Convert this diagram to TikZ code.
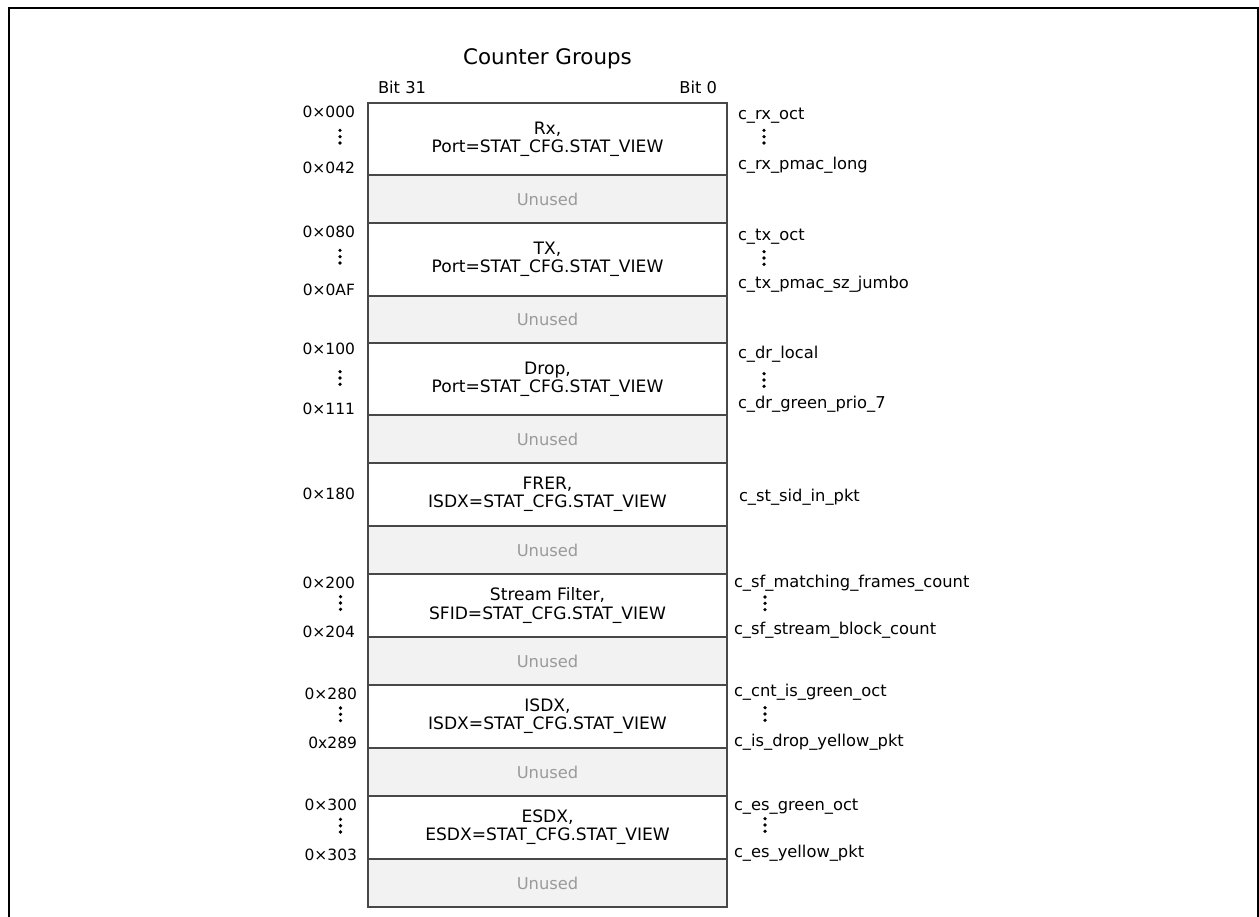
\documentclass[tikz,border=0pt]{standalone}
\usepackage{fontspec}
\setmainfont{DejaVu Sans}
\definecolor{boxline}{HTML}{484848}
\definecolor{unusedfill}{HTML}{F2F2F2}
\definecolor{unusedtext}{HTML}{9A9A9A}
\tikzset{
  body/.style={font=\fontsize{16.3}{18.5}\selectfont, inner sep=0pt, outer sep=0pt},
  grp/.style={body, font=\fontsize{17.1}{18.3}\selectfont, anchor=north west, minimum width=359pt, draw=boxline, line width=1.2pt, align=center, fill=white},
  unusedbox/.style={grp, font=\fontsize{16.3}{18.5}\selectfont, fill=unusedfill, text=unusedtext, minimum height=48pt},
  leftlbl/.style={body, font=\fontsize{15.5}{18}\selectfont, anchor=base east},
  rightlbl/.style={body, anchor=base west},
  vdotmark/.pic={\foreach \dy in {-6.3,0,6.3} \fill (0,\dy) circle (1.8pt);}
}
\begin{document}
\begin{tikzpicture}[x=1pt,y=-1pt]
\useasboundingbox (0,0) rectangle (1259,917);
\draw[line width=2pt] (8.5,918) -- (8.5,8.5) -- (1257.8,8.5) -- (1257.8,918);

\node[body, font=\fontsize{21.4}{24}\selectfont, anchor=base] (title) at (547.5,65) {Counter Groups};
\node[body, anchor=base west] (bit31) at (378,93.3) {Bit 31};
\node[body, anchor=base east] (bit0) at (717,93.3) {Bit 0};

% rows
\node[grp, minimum height=72pt] (rx) at (368,103) {Rx,\\Port=STAT\_CFG.STAT\_VIEW};
\node[unusedbox] (u1) at (368,175) {Unused};
\node[grp, minimum height=73pt] (tx) at (368,223) {TX,\\Port=STAT\_CFG.STAT\_VIEW};
\node[unusedbox, minimum height=47pt] (u2) at (368,296) {Unused};
\node[grp, minimum height=72pt] (drop) at (368,343) {Drop,\\Port=STAT\_CFG.STAT\_VIEW};
\node[unusedbox] (u3) at (368,415) {Unused};
\node[grp, minimum height=63pt] (frer) at (368,463) {FRER,\\ISDX=STAT\_CFG.STAT\_VIEW};
\node[unusedbox] (u4) at (368,526) {Unused};
\node[grp, minimum height=63pt] (sf) at (368,574) {Stream Filter,\\SFID=STAT\_CFG.STAT\_VIEW};
\node[unusedbox] (u5) at (368,637) {Unused};
\node[grp, minimum height=63pt] (isdx) at (368,685) {ISDX,\\ISDX=STAT\_CFG.STAT\_VIEW};
\node[unusedbox] (u6) at (368,748) {Unused};
\node[grp, minimum height=63pt] (esdx) at (368,796) {ESDX,\\ESDX=STAT\_CFG.STAT\_VIEW};
\node[unusedbox] (u7) at (368,859) {Unused};

% left addresses
\node[leftlbl] (a000) at (355,117.5) {0×000};
\pic at (340,136.7) {vdotmark};
\node[leftlbl] (a042) at (355,174) {0×042};
\node[leftlbl] (a080) at (355,237.7) {0×080};
\pic at (340,256.7) {vdotmark};
\node[leftlbl] (a0af) at (355,295.3) {0×0AF};
\node[leftlbl] (a100) at (355,355) {0×100};
\pic at (340,378) {vdotmark};
\node[leftlbl] (a111) at (355,414.3) {0×111};
\node[leftlbl] (a180) at (355,499.3) {0×180};
\node[leftlbl] (a200) at (355,588.7) {0×200};
\pic at (340.5,603) {vdotmark};
\node[leftlbl] (a204) at (355,637.7) {0×204};
\node[leftlbl] (a280) at (357,699.3) {0×280};
\pic at (340.5,714.3) {vdotmark};
\node[leftlbl] (a289) at (357,748.7) {0x289};
\node[leftlbl] (a300) at (357,810.3) {0×300};
\pic at (340.5,825.7) {vdotmark};
\node[leftlbl] (a303) at (357,860) {0×303};

% right counter names
\node[rightlbl] (rxoct) at (738,119.3) {c\_rx\_oct};
\pic at (764,136.7) {vdotmark};
\node[rightlbl] (rxlong) at (738,169.3) {c\_rx\_pmac\_long};
\node[rightlbl] (txoct) at (738,240.5) {c\_tx\_oct};
\pic at (764,258) {vdotmark};
\node[rightlbl] (txjumbo) at (738,289) {c\_tx\_pmac\_sz\_jumbo};
\node[rightlbl] (drlocal) at (738,358.8) {c\_dr\_local};
\pic at (764,380) {vdotmark};
\node[rightlbl] (drprio) at (738,409) {c\_dr\_green\_prio\_7};
\node[rightlbl] (stsid) at (739,501.7) {c\_st\_sid\_in\_pkt};
\node[rightlbl] (sfmatch) at (734,587.3) {c\_sf\_matching\_frames\_count};
\pic at (765,603.3) {vdotmark};
\node[rightlbl] (sfblock) at (734,634) {c\_sf\_stream\_block\_count};
\node[rightlbl] (isgreen) at (734,696.7) {c\_cnt\_is\_green\_oct};
\pic at (765,714) {vdotmark};
\node[rightlbl] (isyellow) at (734,746.7) {c\_is\_drop\_yellow\_pkt};
\node[rightlbl] (esgreen) at (734,810) {c\_es\_green\_oct};
\pic at (765,825) {vdotmark};
\node[rightlbl] (esyellow) at (734,857.3) {c\_es\_yellow\_pkt};
\end{tikzpicture}
\end{document}
